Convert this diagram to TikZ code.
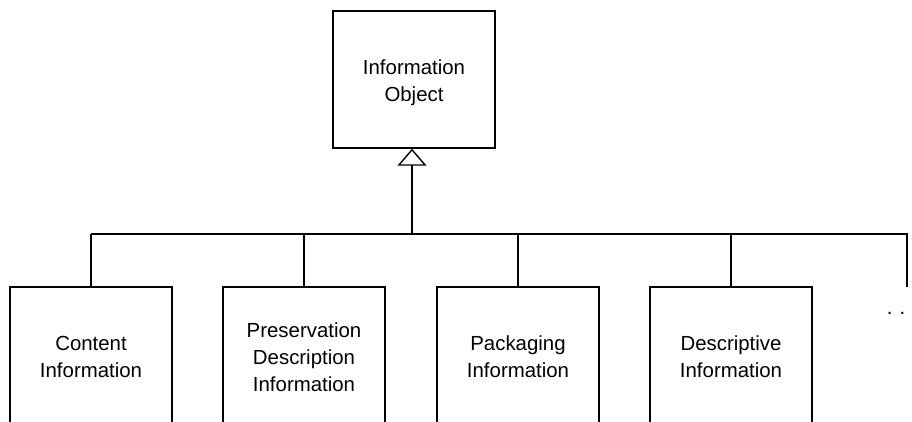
\documentclass[tikz,border=0pt]{standalone}
\usepackage{fontspec}
\setmainfont{Liberation Sans}
\usetikzlibrary{arrows.meta}
\begin{document}
\begin{tikzpicture}[x=1pt,y=-1pt,
  lbl/.style={align=center, inner sep=0pt,
    font=\fontsize{20.4}{27}\selectfont},
  box/.style={lbl, draw, line width=1.4pt, rectangle, minimum width=162pt},
  part/.style={box, minimum height=140pt},
  link/.style={line width=1.4pt},
  gen/.style={link, -{Triangle[open, width=29pt, length=17pt, line width=1.4pt]}}]
  \useasboundingbox (0,0) rectangle (912,422);
  \clip (0,0) rectangle (912,422);

  % general class
  \node[box, minimum height=137pt] (obj) at (414,79.5) {};
  \node[lbl] (objname) at (414,82.5) {Information\\Object};

  % specialised classes (run past the lower edge)
  \node[part] (ci) at (91,357)  {Content\\Information};
  \node[part] (pdi) at (304,357) {Preservation\\Description\\Information};
  \node[part] (pi) at (518,357) {Packaging\\Information};
  \node[part] (di) at (731,357) {Descriptive\\Information};
  \node[lbl] (more) at (896,313) {.\hspace{7pt}.};

  % shared bus and inheritance arrow
  \coordinate (join) at (412,234);
  \coordinate (busL) at (ci.north |- join);
  \coordinate (busR) at (907,234);
  \coordinate (tail) at (907,287);
  \draw[link] (busL) -- (busR) -- (tail);
  \draw[gen] (join) -- (join |- obj.south);
  \foreach \n in {ci,pdi,pi,di}
    \draw[link] (\n.north |- join) -- (\n.north);
\end{tikzpicture}
\end{document}
